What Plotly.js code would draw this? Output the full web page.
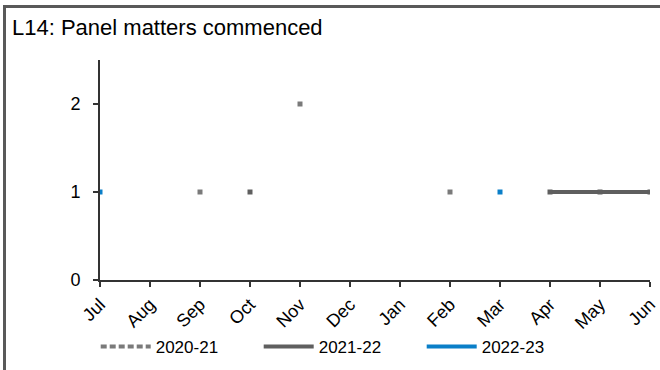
<!DOCTYPE html>
<html>
<head>
<meta charset="utf-8">
<script src="https://cdn.plot.ly/plotly-3.0.1.min.js"></script>
<style>
  html, body { margin: 0; padding: 0; background: #fff; }
  #wrap { position: relative; width: 660px; height: 370px; overflow: hidden; }
  #chart { position: absolute; left: 0; top: 0; width: 660px; height: 370px; }
  #bt { position: absolute; left: 3px; top: 5px; width: 657px; height: 3px; background: #595959; }
  #bl { position: absolute; left: 3px; top: 5px; width: 3px; height: 365px; background: #595959; }
</style>
</head>
<body>
<div id="wrap">
  <div id="chart"></div>
  <div id="bt"></div>
  <div id="bl"></div>
</div>
<script>
const months = ["Jul","Aug","Sep","Oct","Nov","Dec","Jan","Feb","Mar","Apr","May","Jun"];
const s2020_21 = [null, null, 1, null, 2, null, null, 1, null, null, null, null];
const s2021_22 = [null, null, null, 1, null, null, null, null, null, 1, 1, 1];
const s2022_23 = [1, null, null, null, null, null, null, null, 1, null, null, null];
const seriesNames = ["2020-21", "2021-22", "2022-23"];
const yTicks = [0, 1, 2];

const colors = ["#7a7a7a", "#5f5f5f", "#0a7fc8"];
const dashes = ["6px,3px", "solid", "solid"];
const data = [s2020_21, s2021_22, s2022_23];

const traces = [];
data.forEach((arr, i) => {
  traces.push({
    x: months, y: arr, name: seriesNames[i], type: "scatter", mode: "lines",
    connectgaps: false, legendrank: i + 1,
    line: { color: colors[i], width: 4, dash: dashes[i] }
  });
});
data.forEach((arr, i) => {
  traces.push({
    x: months, y: arr, name: seriesNames[i], type: "scatter", mode: "markers",
    showlegend: false,
    marker: { symbol: "square", size: 5, color: colors[i], line: { width: 0 } }
  });
});

const layout = {
  width: 660, height: 370,
  margin: { l: 100, r: 10, t: 60, b: 90, autoexpand: false },
  paper_bgcolor: "#fff", plot_bgcolor: "#fff",
  font: { family: "Liberation Sans, Arial, sans-serif", size: 15, color: "#000" },
  title: { text: "L14: Panel matters commenced", x: 0, xref: "container", xanchor: "left",
           y: 1, yref: "container", yanchor: "top", pad: { l: 12, t: 20 },
           font: { size: 22, color: "#000" } },
  showlegend: true,
  legend: { orientation: "h", x: 0.145, xref: "container", xanchor: "left",
            y: 0.062, yref: "container", yanchor: "middle",
            font: { size: 17 }, itemwidth: 50, entrywidth: 98, traceorder: "normal" },
  xaxis: {
    type: "category", categoryorder: "array", categoryarray: months,
    range: [0, 11], showgrid: false, zeroline: false, automargin: false,
    showline: true, linecolor: "#333", linewidth: 2,
    ticks: "outside", ticklen: 5, tickcolor: "#333", tickwidth: 1.5,
    tickangle: -45, tickfont: { size: 18 }, fixedrange: true
  },
  yaxis: {
    range: [0, 2.5], tickvals: yTicks, ticktext: yTicks.map(String),
    showgrid: false, zeroline: false, automargin: false,
    showline: true, linecolor: "#333", linewidth: 2,
    ticks: "outside", ticklen: 5, tickcolor: "#333", tickwidth: 1.5,
    ticklabelstandoff: 9,
    tickfont: { size: 18 }, fixedrange: true
  }
};

Plotly.newPlot("chart", traces, layout, { staticPlot: true, displayModeBar: false });
</script>
</body>
</html>
